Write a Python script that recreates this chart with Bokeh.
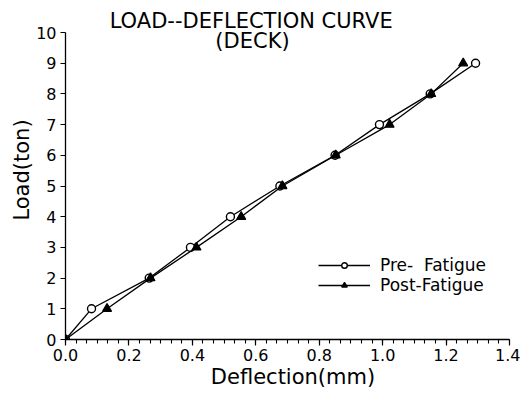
import numpy as np
from bokeh.plotting import figure
from bokeh.models import (FixedTicker, Range1d, Label, Legend, LegendItem, LinearAxis,
                          PrintfTickFormatter)
from bokeh.embed import file_html
from bokeh.resources import INLINE

# ---------------- data ----------------
LOAD = [0, 1, 2, 3, 4, 5, 6, 7, 8, 9]
PRE_DEFL = [0.0, 0.082, 0.264, 0.394, 0.52, 0.676, 0.85, 0.99, 1.15, 1.293]
POST_DEFL = [0.0, 0.131, 0.268, 0.413, 0.554, 0.684, 0.852, 1.022, 1.153, 1.254]
SERIES_NAMES = ["Pre-  Fatigue", "Post-Fatigue"]
X_TICKS = [0.0, 0.2, 0.4, 0.6, 0.8, 1.0, 1.2, 1.4]
Y_TICKS = [0, 1, 2, 3, 4, 5, 6, 7, 8, 9, 10]
TITLE_LINES = ["LOAD--DEFLECTION  CURVE", "(DECK)"]
X_LABEL = "Deflection(mm)"
Y_LABEL = "Load(ton)"

# ---------------- layout ----------------
W, H = 520, 393
AX_LEFT, AX_RIGHT = 65, 509   # x = 0 .. 1.4 in figure px
AX_TOP, AX_BOTTOM = 32, 339   # y = 10 .. 0 in figure px
XMAX, YMAX = X_TICKS[-1], Y_TICKS[-1]
x_scale = (AX_RIGHT - AX_LEFT) / XMAX
y_scale = (AX_BOTTOM - AX_TOP) / YMAX

FONT = "DejaVu Sans"

p = figure(width=W, height=H, output_backend="svg", toolbar_location=None,
           x_range=Range1d(0, (W - AX_LEFT) / x_scale),
           y_range=Range1d(0, AX_BOTTOM / y_scale),
           min_border_left=AX_LEFT, min_border_right=0,
           min_border_top=0, min_border_bottom=H - AX_BOTTOM,
           x_axis_type=None, y_axis_type=None)
p.outline_line_color = None
p.xgrid.visible = False
p.ygrid.visible = False
p.background_fill_color = "white"
p.border_fill_color = "white"

minor = list(np.linspace(0, XMAX, 43))
xaxis = LinearAxis(ticker=FixedTicker(ticks=X_TICKS, minor_ticks=minor),
                   bounds=(0, XMAX), formatter=PrintfTickFormatter(format="%.1f"))
xaxis.major_tick_out = 6
xaxis.major_tick_in = 0
xaxis.minor_tick_out = 4
xaxis.minor_tick_in = 0
xaxis.major_label_standoff = 3
xaxis.axis_label = X_LABEL
xaxis.axis_label_standoff = 1
yaxis = LinearAxis(ticker=FixedTicker(ticks=Y_TICKS, minor_ticks=[]),
                   bounds=(0, YMAX))
yaxis.major_tick_out = 5
yaxis.major_tick_in = 0
yaxis.minor_tick_out = 0
yaxis.minor_tick_in = 0
yaxis.major_label_standoff = 4
yaxis.axis_label = Y_LABEL
yaxis.axis_label_standoff = -1
for ax in (xaxis, yaxis):
    ax.axis_line_color = "black"
    ax.axis_line_width = 1.3
    ax.major_tick_line_color = "black"
    ax.major_tick_line_width = 1.2
    ax.minor_tick_line_color = "black"
    ax.minor_tick_line_width = 1.1
    ax.major_label_text_font = FONT
    ax.major_label_text_font_size = "16px"
    ax.major_label_text_color = "black"
    ax.axis_label_text_font = FONT
    ax.axis_label_text_font_size = "21px"
    ax.axis_label_text_font_style = "normal"
    ax.axis_label_text_color = "black"
p.add_layout(xaxis, "below")
p.add_layout(yaxis, "left")

# series
l1 = p.line(PRE_DEFL, LOAD, line_color="black", line_width=1.3)
s1 = p.scatter(PRE_DEFL, LOAD, marker="circle", size=8, fill_color="white",
               line_color="black", line_width=1.4)
l2 = p.line(POST_DEFL, LOAD, line_color="black", line_width=1.3)
s2 = p.scatter(POST_DEFL, LOAD, marker="triangle", size=9, fill_color="black",
               line_color="black", line_width=1.2)

legend = Legend(items=[LegendItem(label=SERIES_NAMES[0], renderers=[l1, s1]),
                       LegendItem(label=SERIES_NAMES[1], renderers=[l2, s2])],
                location=(253, 44), padding=0, margin=0, spacing=0,
                glyph_width=52, glyph_height=14, label_standoff=10,
                border_line_alpha=0, background_fill_alpha=0,
                label_text_font=FONT, label_text_font_size="17px",
                label_text_color="black")
p.add_layout(legend, "center")

# title (screen units relative to frame: x from left, y from bottom)
def lab(text, dx, dy, size):
    p.add_layout(Label(x=dx, y=dy, x_units="screen", y_units="screen",
                       text=text, text_align="center", text_baseline="middle",
                       text_font=FONT, text_font_size=size, text_color="black"))
lab(TITLE_LINES[0], 189, 319, "21px")
lab(TITLE_LINES[1], 187, 299, "21px")

open("out.html", "w").write(file_html(p, INLINE))
